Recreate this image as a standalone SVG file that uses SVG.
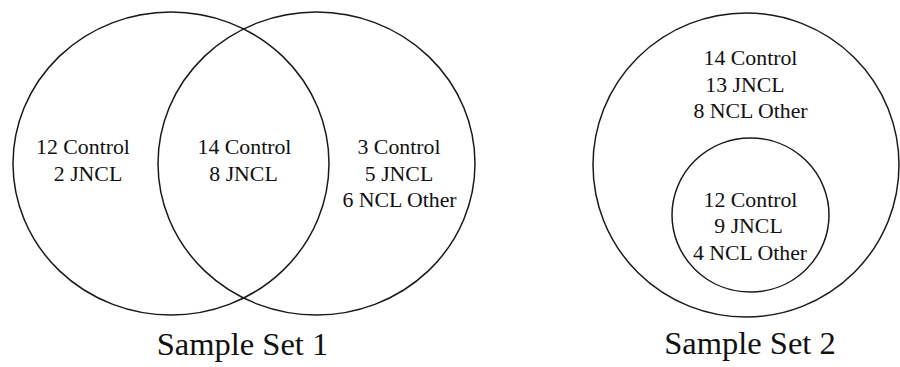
<svg xmlns="http://www.w3.org/2000/svg" width="900" height="367" viewBox="0 0 900 367">
<style>
.c{fill:none;stroke:#1a1a1a;stroke-width:1.5}
.t{font-family:"Liberation Serif","Times New Roman",serif;font-size:21.8px;fill:#111;text-anchor:middle}
.h{font-family:"Liberation Serif","Times New Roman",serif;font-size:32.5px;fill:#111;text-anchor:middle}
</style>
<rect width="900" height="367" fill="#fff"/>
<g id="set1">
<g id="set1-left">
<ellipse class="c" cx="171" cy="163.5" rx="158" ry="151.5"/>
<text class="t" x="83" y="154">12 Control</text>
<text class="t" x="88" y="180.5">2 JNCL</text>
</g>
<g id="set1-right">
<ellipse class="c" cx="316.5" cy="163.5" rx="158.5" ry="151.5"/>
<text class="t" x="399" y="154">3 Control</text>
<text class="t" x="399" y="180.5">5 JNCL</text>
<text class="t" x="399.5" y="207">6 NCL Other</text>
</g>
<g id="set1-overlap">
<text class="t" x="244.5" y="154">14 Control</text>
<text class="t" x="243.5" y="180.5">8 JNCL</text>
</g>
<text class="h" x="242.5" y="355">Sample Set 1</text>
</g>
<g id="set2">
<g id="set2-outer">
<ellipse class="c" cx="746" cy="165" rx="153" ry="152"/>
<text class="t" x="750.5" y="65">14 Control</text>
<text class="t" x="745" y="91.7">13 JNCL</text>
<text class="t" x="750.5" y="118">8 NCL Other</text>
</g>
<g id="set2-inner">
<ellipse class="c" cx="750.5" cy="215" rx="78.5" ry="77"/>
<text class="t" x="750.5" y="206.5">12 Control</text>
<text class="t" x="748.5" y="233">9 JNCL</text>
<text class="t" x="750" y="260">4 NCL Other</text>
</g>
<text class="h" x="750" y="354">Sample Set 2</text>
</g>
<g id="connectors"/>
</svg>
